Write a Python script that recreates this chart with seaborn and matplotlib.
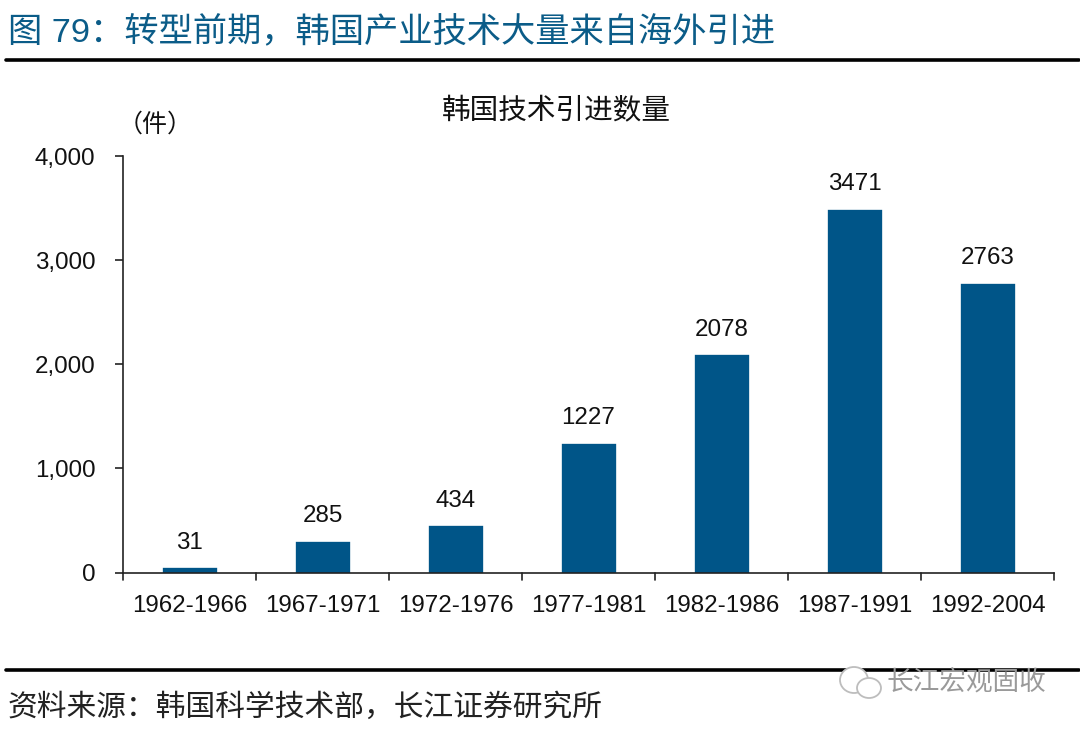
"""
Korea technology imports bar chart (fig. 79).
"""

import matplotlib
matplotlib.use('Agg')
import matplotlib.pyplot as plt
from matplotlib.patches import Ellipse
import pandas as pd
import seaborn as sns

periods = ['1962-1966', '1967-1971', '1972-1976', '1977-1981',
           '1982-1986', '1987-1991', '1992-2004']
counts = [31, 285, 434, 1227, 2078, 3471, 2763]
yticks = [0, 1000, 2000, 3000, 4000]

sns.set_theme(style="white")
plt.rcParams['font.family'] = ['Liberation Sans', 'Noto Sans CJK SC', 'DejaVu Sans']

df = pd.DataFrame({'period': periods, 'count': counts})

W, H = 1080, 731
fig = plt.figure(figsize=(W / 100, H / 100), dpi=100)
ax = fig.add_axes([123 / W, 1 - 572.5 / H, (1054 - 123) / W, (572.5 - 156) / H])

# the bars in the reference have a thick edge of the same colour
sns.barplot(data=df, x='period', y='count', color='#005588', saturation=1,
            width=0.39, edgecolor='#005588', linewidth=2.4, ax=ax)

for i, v in enumerate(counts):
    ax.text(i, v + 150, str(v), ha='center', va='bottom', fontsize=17.4, color='#111111')

ax.set_xlim(-0.5, 6.5)
ax.set_ylim(0, 4000)
ax.set_yticks(yticks)
ax.set_yticklabels([f'{t:,}' for t in yticks], fontsize=17.4, color='#111111')
ax.set_xlabel('')
ax.set_ylabel('')
ax.tick_params(axis='x', labelsize=17.4, labelcolor='#111111', length=0, pad=16.5)
ax.tick_params(axis='y', left=True, length=6, width=1.2, color='#222222', pad=14)
for x in [i - 0.5 for i in range(8)]:
    ax.plot([x, x], [0, -75], color='#222222', lw=1.2, clip_on=False)

sns.despine(ax=ax)
ax.spines['left'].set_color('#222222')
ax.spines['bottom'].set_color('#222222')
ax.spines['left'].set_linewidth(1.2)
ax.spines['bottom'].set_linewidth(1.2)

fig.text(442 / W, 1 - 110 / H, '韩国技术引进数量', fontsize=20.6, color='#111111',
         ha='left', va='center')
fig.text(118 / W, 1 - 125 / H, '（件）', fontsize=18, color='#111111',
         ha='left', va='center')
fig.text(8 / W, 1 - 32 / H, '图 79：转型前期，韩国产业技术大量来自海外引进', fontsize=24.7,
         color='#0b5c88', ha='left', va='center')
fig.text(8 / W, 1 - 708 / H, '资料来源：韩国科学技术部，长江证券研究所', fontsize=21.4,
         color='#222222', ha='left', va='center')

for y, lw in [(60, 2.6), (670, 2.6)]:
    fig.add_artist(plt.Line2D([6 / W, 1079 / W], [1 - y / H, 1 - y / H], color='black', lw=lw))

# watermark: two speech bubbles and the account name over the rule
for cx, cy, w, h in [(854, 680, 28, 26), (869, 688, 24, 20)]:
    fig.add_artist(Ellipse((cx / W, 1 - cy / H), w / W, h / H, transform=fig.transFigure,
                           facecolor='white', edgecolor='#bdbdbd', lw=1.3, zorder=5))
fig.text(886 / W, 1 - 684 / H, '长江宏观固收', fontsize=19.2, color='#9a9a9a',
         ha='left', va='center', zorder=6)

plt.savefig('out.png', dpi=100)
